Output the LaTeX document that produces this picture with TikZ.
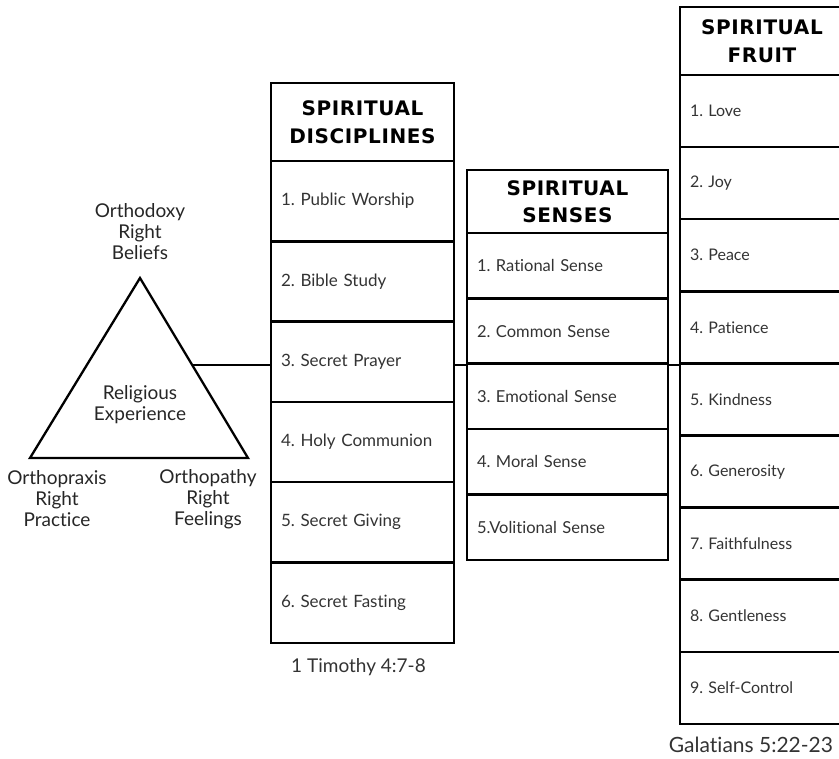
\documentclass[tikz,border=0pt]{standalone}
\usepackage{fontspec}
\setmainfont[Ligatures=NoCommon]{Lato}
\newfontfamily\hdrfont[LetterSpace=3]{DejaVu Sans}
\usetikzlibrary{positioning}
\frenchspacing

\begin{document}
\begin{tikzpicture}[x=1pt,y=-1pt,line width=2.6pt,node distance=0pt,
  txt/.style={font=\fontsize{16.5}{18}\selectfont,text=black!80},
  lbl/.style={align=center,font=\fontsize{19}{21}\selectfont,text=black!85,inner sep=0pt},
  hdr/.style={draw,outer sep=0pt,inner sep=0pt,align=center,text width=#1,font=\hdrfont\bfseries\fontsize{20}{27.5}\selectfont},
  cell/.style={draw,outer sep=0pt,inner ysep=0pt,inner xsep=10pt,align=left,txt},
  drow/.style={cell,text width=163pt,minimum height=80.3pt,font=\fontsize{17}{18}\selectfont},
  srow/.style={cell,text width=181pt,minimum height=65.4pt},
  frow/.style={cell,text width=144pt,minimum height=72.1pt,font=\fontsize{16}{18}\selectfont}]
\useasboundingbox (0,0) rectangle (839,759);
\clip (0,0) rectangle (839,759);

% triangle
\coordinate (apex) at (140,278);
\coordinate (bl) at (30,458);
\coordinate (br) at (248,458);
\draw[line width=2.3pt,line join=miter] (apex) -- (bl) -- (br) -- cycle;
\coordinate (tside) at (192,365);
\node[lbl] (belief) at (140,232) {Orthodoxy\\Right\\Beliefs};
\node[lbl] (relexp) at (140,405) {Religious\\Experience};
\node[lbl] (praxis) at (57,499) {Orthopraxis\\Right\\Practice};
\node[lbl] (pathy) at (208,499) {Orthopathy\\Right\\Feelings};

% spiritual disciplines
\node[hdr=183pt,minimum height=78pt,anchor=north west] (dh) at (271,83) {SPIRITUAL\\DISCIPLINES\\[4pt]};
\foreach \t [count=\i,remember=\i as \j (initially h)] in
  {1. Public Worship,2. Bible Study,3. Secret Prayer,4. Holy Communion,5. Secret Giving,6. Secret Fasting}
  \node[drow,below=of d\j] (d\i) {\t};
\node[txt,font=\fontsize{19}{20}\selectfont,below=11pt of d6,xshift=-4pt] (tim) {1 Timothy 4:7-8};

% spiritual senses
\node[hdr=201pt,minimum height=63pt,anchor=north west] (sh) at (467,170) {SPIRITUAL\\SENSES};
\foreach \t [count=\i,remember=\i as \j (initially h)] in
  {1. Rational Sense,2. Common Sense,3. Emotional Sense,4. Moral Sense,5.Volitional Sense}
  \node[srow,below=of s\j] (s\i) {\t};

% spiritual fruit
\node[hdr=164pt,minimum height=68pt,anchor=north west] (fh) at (680,7) {SPIRITUAL\\FRUIT};
\foreach \t [count=\i,remember=\i as \j (initially h)] in
  {1. Love,2. Joy,3. Peace,4. Patience,5. Kindness,6. Generosity,7. Faithfulness,8. Gentleness,9. Self-Control}
  \node[frow,below=of f\j] (f\i) {\t};
\node[txt,font=\fontsize{21}{22}\selectfont,below=8pt of f9,xshift=-11pt] (gal) {Galatians 5:22-23};

% connectors
\draw (tside) -- (tside -| d3.west);
\draw (tside -| d3.east) -- (tside -| s1.west);
\draw (tside -| s1.east) -- (tside -| f1.west);
\end{tikzpicture}
\end{document}
